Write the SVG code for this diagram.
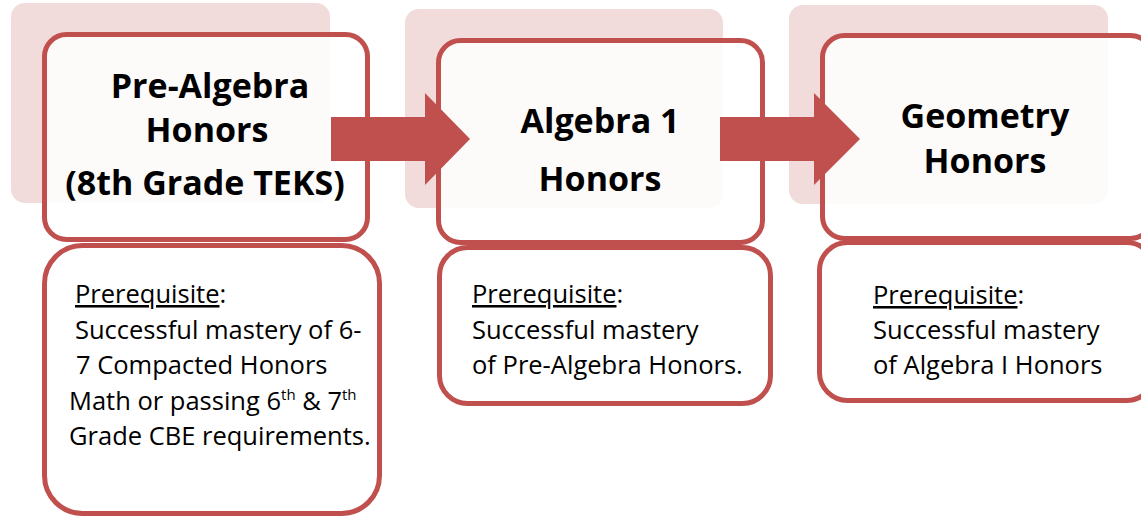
<svg xmlns="http://www.w3.org/2000/svg" width="1141" height="516" viewBox="0 0 1141 516">
<style>
.bg{fill:#f2dcdb}
.box{fill:#ffffff;fill-opacity:0.85;stroke:#c0504d;stroke-width:5}
.sub{fill:#ffffff;stroke:#c0504d;stroke-width:5}
.arrow{fill:#c0504d}
.t{font-family:"Open Sans","Liberation Sans",sans-serif;font-weight:bold;font-size:34px;fill:#000;text-anchor:middle}
.p{font-family:"Open Sans","Liberation Sans",sans-serif;font-size:25.5px;fill:#000}
.u{text-decoration:underline}
</style>
<rect width="1141" height="516" fill="#ffffff"/>
<g id="node-prealgebra">
<rect class="bg" x="11" y="3" width="319" height="200" rx="14"/>
<rect class="box" x="44.5" y="34.5" width="323" height="205" rx="22"/>
<text class="t" x="210" y="98">Pre-Algebra</text>
<text class="t" x="207" y="142">Honors</text>
<text class="t" x="205" y="195">(8th Grade TEKS)</text>
</g>
<g id="node-algebra1">
<rect class="bg" x="405" y="9" width="318" height="199" rx="14"/>
<rect class="box" x="438.5" y="40.5" width="324" height="202" rx="22"/>
<text class="t" x="600" y="133">Algebra 1</text>
<text class="t" x="600" y="191">Honors</text>
</g>
<g id="node-geometry">
<rect class="bg" x="789" y="5" width="319" height="199" rx="14"/>
<rect class="box" x="822.5" y="35.5" width="330" height="203" rx="22"/>
<text class="t" x="985" y="128">Geometry</text>
<text class="t" x="985" y="173">Honors</text>
</g>
<g id="connectors">
<polygon class="arrow" points="331,117 425,117 425,93 470,139 425,185 425,161 331,161"/>
<polygon class="arrow" points="720,117 814,117 814,93 860,139 814,185 814,161 720,161"/>
</g>
<g id="node-prereq-1">
<rect class="sub" x="44.5" y="245.5" width="335" height="268" rx="38"/>
<text class="p" x="75" y="303"><tspan class="u">Prerequisite</tspan>:</text>
<text class="p" x="75" y="339">Successful mastery of 6-</text>
<text class="p" x="76" y="374">7 Compacted Honors</text>
<text class="p" x="69" y="410">Math or passing 6<tspan dy="-10" font-size="15">th</tspan><tspan dy="10"> &amp; 7</tspan><tspan dy="-10" font-size="15">th</tspan></text>
<text class="p" x="69" y="445">Grade CBE requirements.</text>
</g>
<g id="node-prereq-2">
<rect class="sub" x="439.5" y="247.5" width="331" height="156" rx="28"/>
<text class="p" x="472" y="303"><tspan class="u">Prerequisite</tspan>:</text>
<text class="p" x="472" y="339">Successful mastery</text>
<text class="p" x="472" y="374">of Pre-Algebra Honors.</text>
</g>
<g id="node-prereq-3">
<rect class="sub" x="819.5" y="242.5" width="335" height="158" rx="28"/>
<text class="p" x="873" y="304"><tspan class="u">Prerequisite</tspan>:</text>
<text class="p" x="873" y="339">Successful mastery</text>
<text class="p" x="873" y="374">of Algebra I Honors</text>
</g>
</svg>
